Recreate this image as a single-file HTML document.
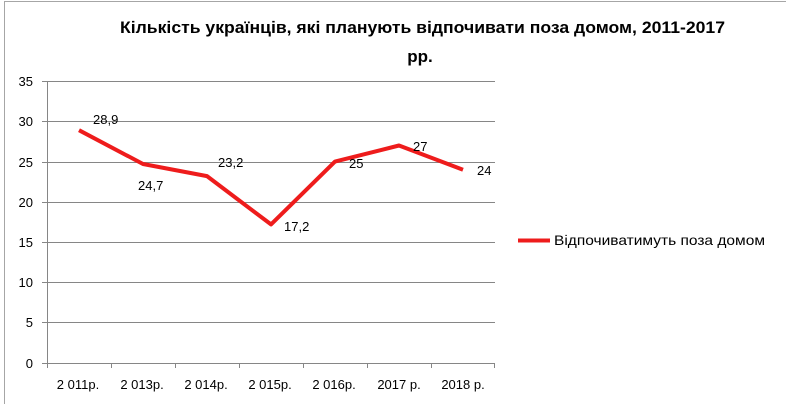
<!DOCTYPE html>
<html><head><meta charset="utf-8"><style>
body{margin:0;background:#fff}
svg{display:block;font-family:"Liberation Sans","DejaVu Sans",sans-serif}
</style></head><body>
<svg width="786" height="404" viewBox="0 0 786 404" xmlns="http://www.w3.org/2000/svg">
<rect x="4.5" y="1.5" width="790" height="420" fill="#fff" stroke="#a6a6a6"/>
<text x="120" y="33" font-size="17" font-weight="bold" fill="#000" textLength="605" lengthAdjust="spacingAndGlyphs">Кількість  українців, які планують відпочивати поза домом, 2011-2017</text>
<text x="420" y="62" text-anchor="middle" font-size="17" font-weight="bold" fill="#000">рр.</text>
<g stroke="#868686" stroke-width="1">
<line x1="47" y1="81.5" x2="495" y2="81.5"/>
<line x1="47" y1="121.5" x2="495" y2="121.5"/>
<line x1="47" y1="162.5" x2="495" y2="162.5"/>
<line x1="47" y1="202.5" x2="495" y2="202.5"/>
<line x1="47" y1="242.5" x2="495" y2="242.5"/>
<line x1="47" y1="282.5" x2="495" y2="282.5"/>
<line x1="47" y1="322.5" x2="495" y2="322.5"/>
<line x1="47" y1="363.5" x2="495" y2="363.5"/>
<line x1="47.5" y1="81" x2="47.5" y2="368"/>
<line x1="42" y1="81.5" x2="47" y2="81.5"/><line x1="42" y1="121.5" x2="47" y2="121.5"/><line x1="42" y1="162.5" x2="47" y2="162.5"/><line x1="42" y1="202.5" x2="47" y2="202.5"/><line x1="42" y1="242.5" x2="47" y2="242.5"/><line x1="42" y1="282.5" x2="47" y2="282.5"/><line x1="42" y1="322.5" x2="47" y2="322.5"/><line x1="42" y1="363.5" x2="47" y2="363.5"/>
<line x1="111.5" y1="363" x2="111.5" y2="368"/><line x1="175.5" y1="363" x2="175.5" y2="368"/><line x1="239.5" y1="363" x2="239.5" y2="368"/><line x1="303.5" y1="363" x2="303.5" y2="368"/><line x1="367.5" y1="363" x2="367.5" y2="368"/><line x1="431.5" y1="363" x2="431.5" y2="368"/><line x1="494.5" y1="363" x2="494.5" y2="368"/>
</g>
<g font-size="13" fill="#000" text-anchor="end">
<text x="33" y="86">35</text><text x="33" y="126">30</text><text x="33" y="167">25</text><text x="33" y="207">20</text><text x="33" y="247">15</text><text x="33" y="287">10</text><text x="33" y="327">5</text><text x="33" y="368">0</text>
</g>
<g font-size="13" fill="#000" text-anchor="middle">
<text x="78" y="389">2 011р.</text><text x="142" y="389">2 013р.</text><text x="206" y="389">2 014р.</text><text x="270" y="389">2 015р.</text><text x="334" y="389">2 016р.</text><text x="399" y="389">2017 р.</text><text x="463" y="389">2018 р.</text>
</g>
<polyline fill="none" stroke="#ee1c1c" stroke-width="4" stroke-linejoin="round" points="79,130.2 143,164 207,176.1 271,224.4 335,161.6 399,145.5 463,169.7"/>
<g font-size="13" fill="#000">
<text x="93" y="124">28,9</text><text x="138" y="190">24,7</text><text x="218" y="167">23,2</text><text x="284" y="231">17,2</text><text x="349" y="168">25</text><text x="413" y="151">27</text><text x="477" y="175">24</text>
</g>
<line x1="518" y1="240.5" x2="550" y2="240.5" stroke="#ee1c1c" stroke-width="4"/>
<text x="554" y="245" font-size="14" fill="#000" textLength="211" lengthAdjust="spacingAndGlyphs">Відпочиватимуть поза домом</text>
</svg>
</body></html>
